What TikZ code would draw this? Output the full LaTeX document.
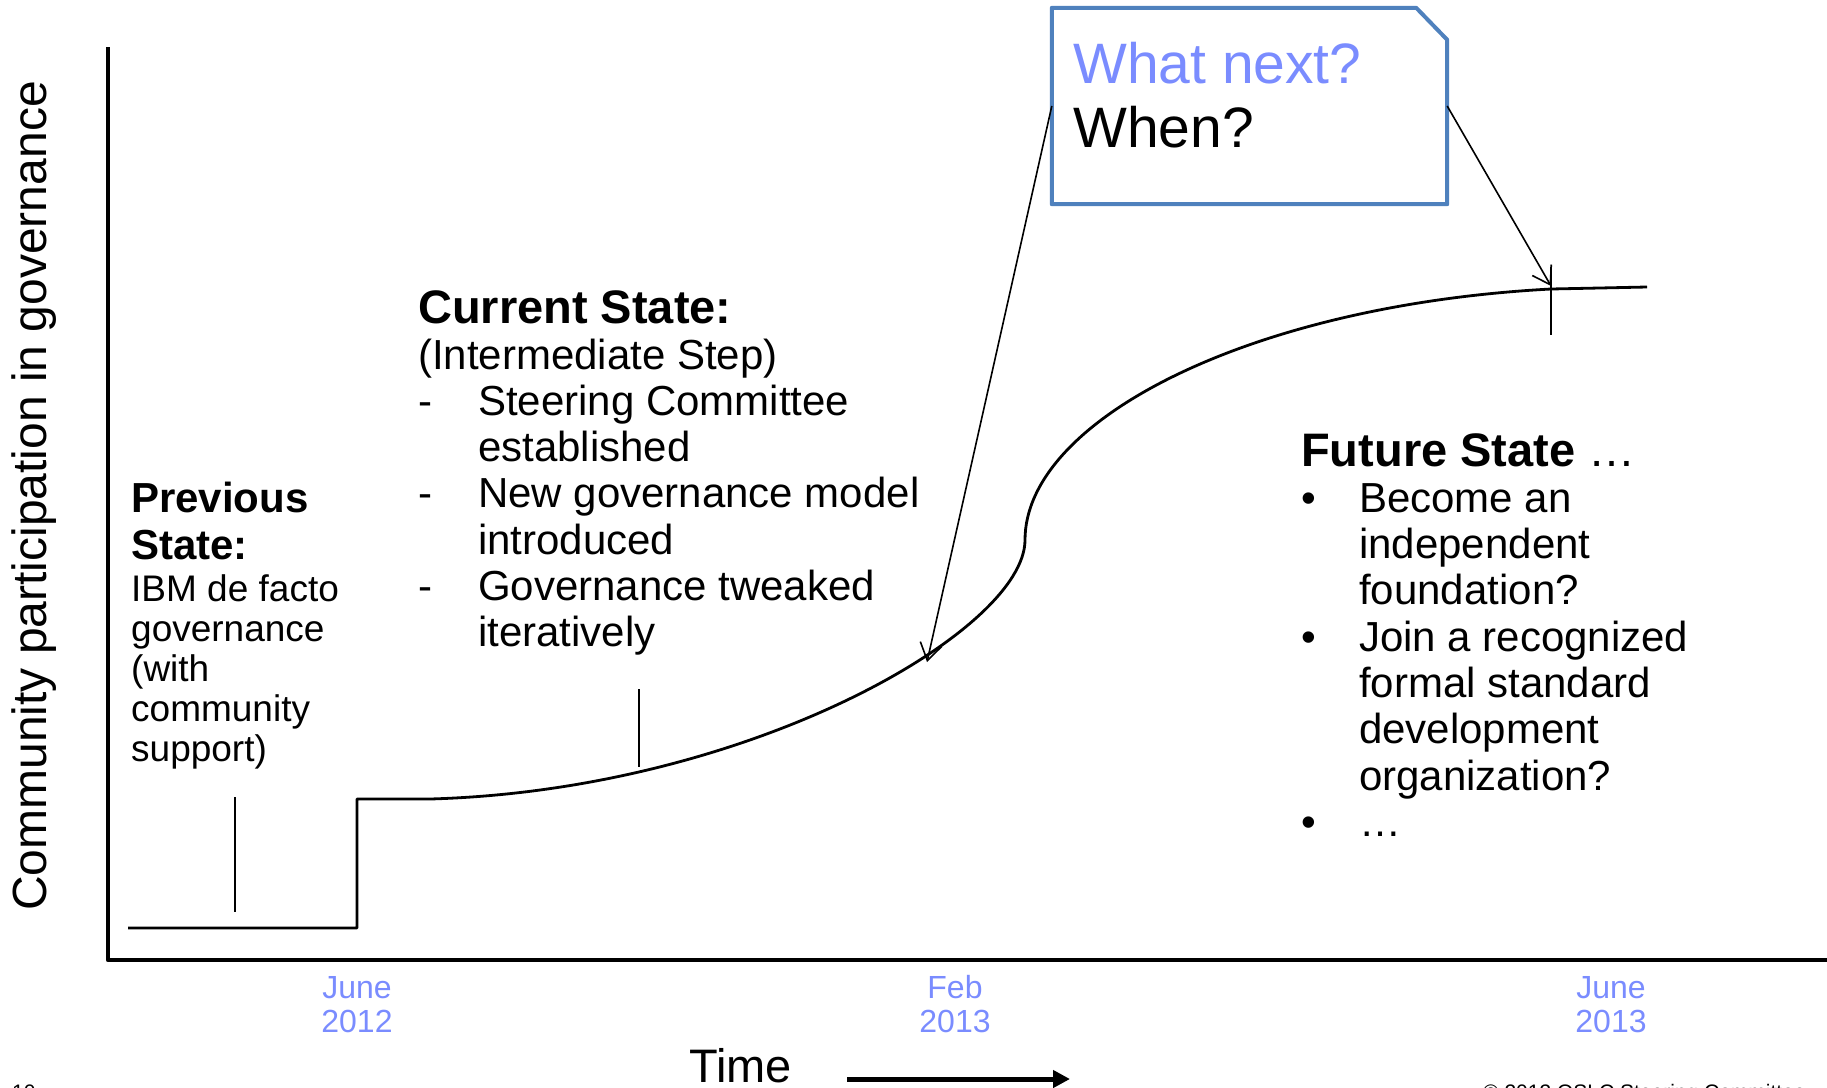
\documentclass[tikz,border=0pt]{standalone}
\usepackage{fontspec}
\setmainfont{Liberation Sans}
\usetikzlibrary{arrows.meta}
\definecolor{lblue}{RGB}{122,140,255}
\definecolor{boxblue}{RGB}{79,129,189}
\newcommand\fsz[1]{\fontsize{#1}{#1}\selectfont}
\newcommand\myln[2]{\baselineskip=#1pt\relax\hbox{#2}}
\newcommand\cln[2]{\baselineskip=#1pt\relax\hbox to 0pt{\hss#2\hss}}
\newcommand\dashit[1]{\makebox[60pt][l]{-}#1}
\newcommand\bulit[1]{\makebox[58pt][l]{\textbullet}#1}
\newcommand\indt[1]{\hspace*{60pt}#1}
\newcommand\indf[1]{\hspace*{58pt}#1}
\begin{document}
\begin{tikzpicture}[x=1pt,y=-1pt,line join=round,
  txt/.style={inner sep=0pt,anchor=base west},
  datelbl/.style={inner sep=0pt,anchor=base,text=lblue,font=\fsz{32}},
  curveline/.style={line width=2.8pt},
  tickline/.style={line width=2.5pt},
  callarrow/.style={line width=1.6pt,-{Straight Barb[length=17pt,width=22pt,line width=1.6pt]}}]
\useasboundingbox (0,0) rectangle (1827,1087);
% axes
\draw[line width=4.5pt] (108,47) -- (108,960) -- (1827,960);
% curve
\draw[curveline] (128,928) -- (357,928) -- (357,799) -- (430,799)
  .. controls (750,790) and (1025,630) .. (1025,540)
  .. controls (1025,420) and (1250,305) .. (1551,289)
  .. controls (1600,288) .. (1647,287);
% ticks
\draw[tickline] (235,797) -- (235,912);
\draw[tickline] (639,689) -- (639,767);
\draw[tickline] (1551,267) -- (1551,335);
% y label
\node[inner sep=0pt,anchor=base,rotate=90,font=\fsz{48}] (ylab) at (46,496) {Community participation in governance};
% previous state
\node[txt] (prev) at (131,512) {\vtop{\lineskiplimit=-1000pt
  \fsz{42}\bfseries\myln{47}{Previous}\myln{47}{State:}%
  \fsz{37}\mdseries\myln{42}{IBM de facto}\myln{40}{governance}\myln{40}{(with}\myln{40}{community}\myln{40}{support)}}};
% current state
\node[txt] (cur) at (418,323) {\vtop{\lineskiplimit=-1000pt
  \fsz{47}\bfseries\myln{46}{Current State:}%
  \fsz{42}\mdseries\myln{46.2}{(Intermediate Step)}%
  \myln{46.2}{\dashit{Steering Committee}}\myln{46.2}{\indt{established}}%
  \myln{46.2}{\dashit{New governance model}}\myln{46.2}{\indt{introduced}}%
  \myln{46.2}{\dashit{Governance tweaked}}\myln{46.2}{\indt{iteratively}}}};
% future state
\node[txt] (fut) at (1301,466) {\vtop{\lineskiplimit=-1000pt
  \fsz{47}\myln{46}{\textbf{Future State} …}%
  \fsz{42}\myln{46.3}{\bulit{Become an}}\myln{46.3}{\indf{independent}}\myln{46.3}{\indf{foundation?}}%
  \myln{46.3}{\bulit{Join a recognized}}\myln{46.3}{\indf{formal standard}}\myln{46.3}{\indf{development}}%
  \myln{46.3}{\indf{organization?}}\myln{46.3}{\bulit{…}}}};
% callout box
\node[inner sep=0pt,minimum width=395pt,minimum height=196pt] (box) at (1249.5,106) {};
\draw[boxblue,line width=4pt] (box.south west) -- (box.north west) -- ([xshift=-31pt]box.north east)
  -- ([yshift=-32pt]box.north east) -- (box.south east) -- cycle;
\node[txt] (q) at (1073,83) {\vtop{\lineskiplimit=-1000pt\fsz{57}%
  \myln{64}{\textcolor{lblue}{What next?}}\myln{64}{When?}}};
\coordinate (p1) at (927,662);
\coordinate (p2) at (1551,286);
\draw[callarrow] (box.west) -- (p1);
\draw[callarrow] (box.east) -- (p2);
% date labels
\node[datelbl] (d1) at (357,998) {\vtop{\lineskiplimit=-1000pt\cln{34}{June}\cln{34}{2012}}};
\node[datelbl] (d2) at (955,998) {\vtop{\lineskiplimit=-1000pt\cln{34}{Feb}\cln{34}{2013}}};
\node[datelbl] (d3) at (1611,998) {\vtop{\lineskiplimit=-1000pt\cln{34}{June}\cln{34}{2013}}};
% time
\node[txt,font=\fsz{47}] (time) at (689,1082) {Time};
\coordinate (ta) at (847,1079);
\coordinate (tb) at (1070,1079);
\draw[line width=5pt,-{Triangle[length=17pt,width=17pt]}] (ta) -- (tb);
% footer
\node[txt,font=\fsz{21}] (pg) at (12,1099) {10};
\node[txt,font=\fsz{21}] (copy) at (1483,1099) {© 2013 OSLC Steering Committee};
\end{tikzpicture}
\end{document}
